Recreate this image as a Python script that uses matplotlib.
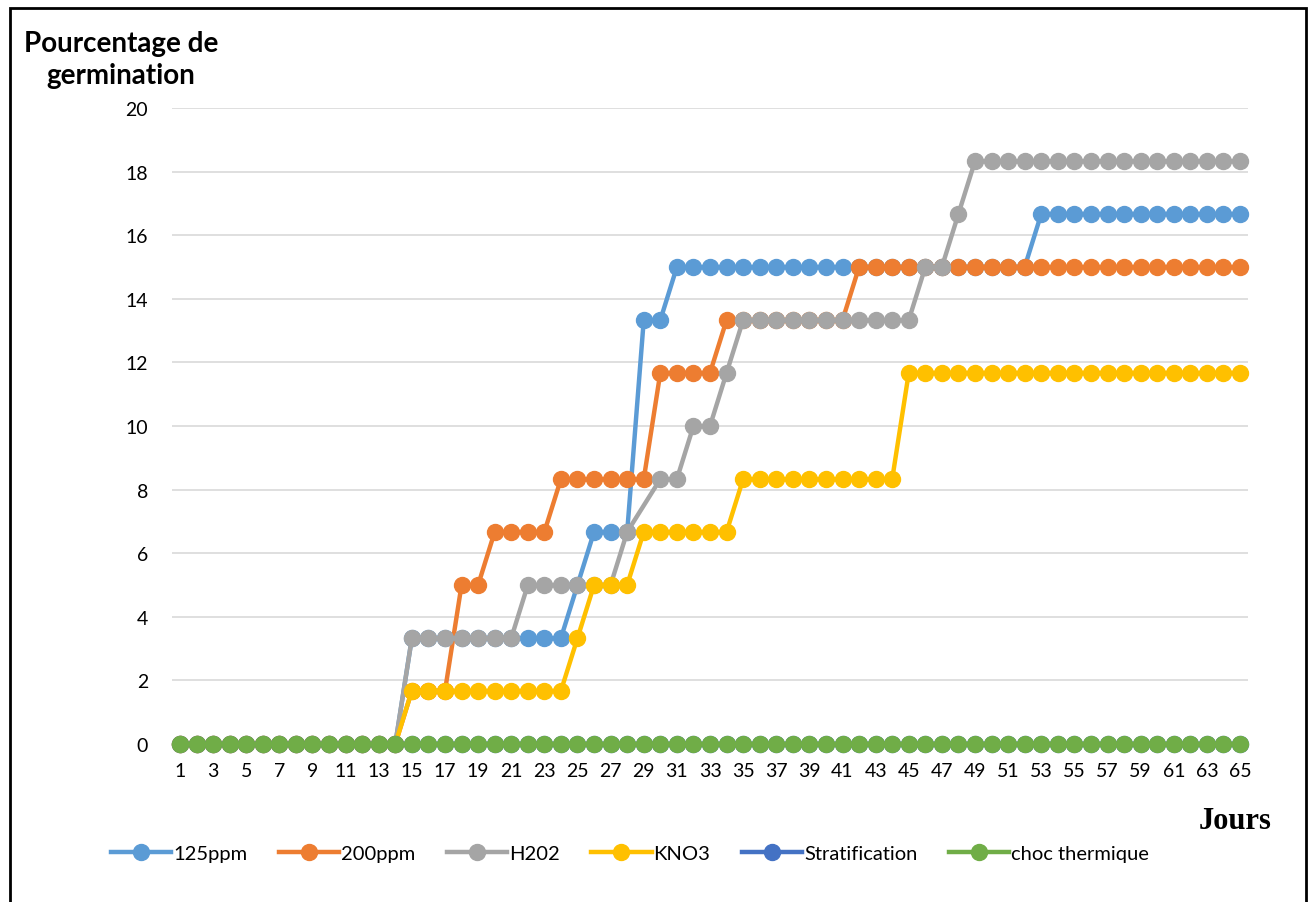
import numpy as np
import matplotlib
matplotlib.use("Agg")
import matplotlib.pyplot as plt
from matplotlib.patches import Rectangle

# Days of observation (categories on the x axis)
jours = list(range(1, 66))

# Cumulative germination percentage per treatment (None = no reading that day)
ppm125 = [0, 0, 0, 0, 0, 0, 0, 0, 0, 0, 0, 0, 0, 0,
          3.33, 3.33, 3.33, 3.33, 3.33, 3.33, 3.33, 3.33, 3.33, 3.33,
          5, 6.67, 6.67, 6.67, 13.33, 13.33,
          15, 15, 15, 15, 15, 15, 15, 15, 15, 15, 15, 15, 15, 15, 15, 15,
          15, 15, 15, 15, 15, 15,
          16.67, 16.67, 16.67, 16.67, 16.67, 16.67, 16.67, 16.67, 16.67,
          16.67, 16.67, 16.67, 16.67]
ppm200 = [0, 0, 0, 0, 0, 0, 0, 0, 0, 0, 0, 0, 0, 0,
          1.67, 1.67, 1.67, 5, 5, 6.67, 6.67, 6.67, 6.67,
          8.33, 8.33, 8.33, 8.33, 8.33, 8.33,
          11.67, 11.67, 11.67, 11.67,
          13.33, 13.33, 13.33, 13.33, 13.33, 13.33, 13.33, 13.33,
          15, 15, 15, 15, 15, 15, 15, 15, 15, 15, 15, 15, 15, 15, 15, 15,
          15, 15, 15, 15, 15, 15, 15, 15]
h202 = [0, 0, 0, 0, 0, 0, 0, 0, 0, 0, 0, 0, 0, 0,
        3.33, 3.33, 3.33, 3.33, 3.33, 3.33, 3.33,
        5, 5, 5, 5, 5, 5, 6.67, None, 8.33, 8.33, 10, 10, 11.67,
        13.33, 13.33, 13.33, 13.33, 13.33, 13.33, 13.33, 13.33, 13.33,
        13.33, 13.33, 15, 15, 16.67,
        18.33, 18.33, 18.33, 18.33, 18.33, 18.33, 18.33, 18.33, 18.33,
        18.33, 18.33, 18.33, 18.33, 18.33, 18.33, 18.33, 18.33]
kno3 = [0, 0, 0, 0, 0, 0, 0, 0, 0, 0, 0, 0, 0, 0,
        1.67, 1.67, 1.67, 1.67, 1.67, 1.67, 1.67, 1.67, 1.67, 1.67,
        3.33, 5, 5, 5, 6.67, 6.67, 6.67, 6.67, 6.67, 6.67,
        8.33, 8.33, 8.33, 8.33, 8.33, 8.33, 8.33, 8.33, 8.33, 8.33,
        11.67, 11.67, 11.67, 11.67, 11.67, 11.67, 11.67, 11.67, 11.67,
        11.67, 11.67, 11.67, 11.67, 11.67, 11.67, 11.67, 11.67, 11.67,
        11.67, 11.67, 11.67]
stratification = [0] * 65
choc_thermique = [0] * 65

series = [
    ("125ppm", ppm125, "#5B9BD5"),
    ("200ppm", ppm200, "#ED7D31"),
    ("H202", h202, "#A5A5A5"),
    ("KNO3", kno3, "#FFC000"),
    ("Stratification", stratification, "#4472C4"),
    ("choc thermique", choc_thermique, "#70AD47"),
]

y_ticks = [0, 2, 4, 6, 8, 10, 12, 14, 16, 18, 20]
x_tick_labels = [d for d in jours if d % 2 == 1]

plt.rcParams["font.family"] = ["Lato", "DejaVu Sans"]

W, H = 1311, 903
fig = plt.figure(figsize=(W / 100, H / 100), dpi=100)

ax = fig.add_axes([171.7 / W, 1 - 745 / H, (1248.3 - 171.7) / W, (745 - 109) / H])

for name, vals, color in series:
    x = np.array(jours, dtype=float)
    y = np.array([np.nan if v is None else v for v in vals], dtype=float)
    ok = ~np.isnan(y)
    ax.plot(x[ok], y[ok], color=color, lw=3.2, marker="o", markersize=11.5,
            markerfacecolor=color, markeredgecolor=color, label=name,
            solid_joinstyle="round", clip_on=False, zorder=3)

ax.set_xlim(0.5, 65.5)
ax.set_ylim(0, 20)
ax.set_yticks(y_ticks)
ax.set_xticks(x_tick_labels)
ax.set_xticklabels([str(d) for d in x_tick_labels])
ax.tick_params(axis="both", length=0, labelsize=14, colors="black")
ax.tick_params(axis="x", pad=13)
ax.tick_params(axis="y", pad=17)
ax.yaxis.grid(True, color="#D9D9D9", lw=1.2, zorder=0)
ax.set_axisbelow(True)
for s in ax.spines.values():
    s.set_visible(False)

# Axis titles
fig.text(121 / W, 1 - 60 / H, "Pourcentage de\ngermination", ha="center", va="center",
         fontsize=20, fontweight="bold", linespacing=1.3)
fig.text(1235 / W, 1 - 822 / H, "Jours", ha="center", va="center",
         fontsize=22, fontweight="bold", family="Liberation Serif")

# Legend below the plot area
fig.legend(loc="center", bbox_to_anchor=(630 / W, 1 - 854 / H), ncol=6, frameon=False,
           fontsize=14.5, handlelength=3.0, handletextpad=0.1, columnspacing=1.55,
           markerscale=1.0)

# Outer frame of the chart
fig.patches.append(Rectangle((10 / W, -0.02), (1306 - 10) / W, 1.02 - 9 / H,
                             transform=fig.transFigure, fill=False,
                             edgecolor="black", lw=2))

fig.savefig("out.png", dpi=100)
